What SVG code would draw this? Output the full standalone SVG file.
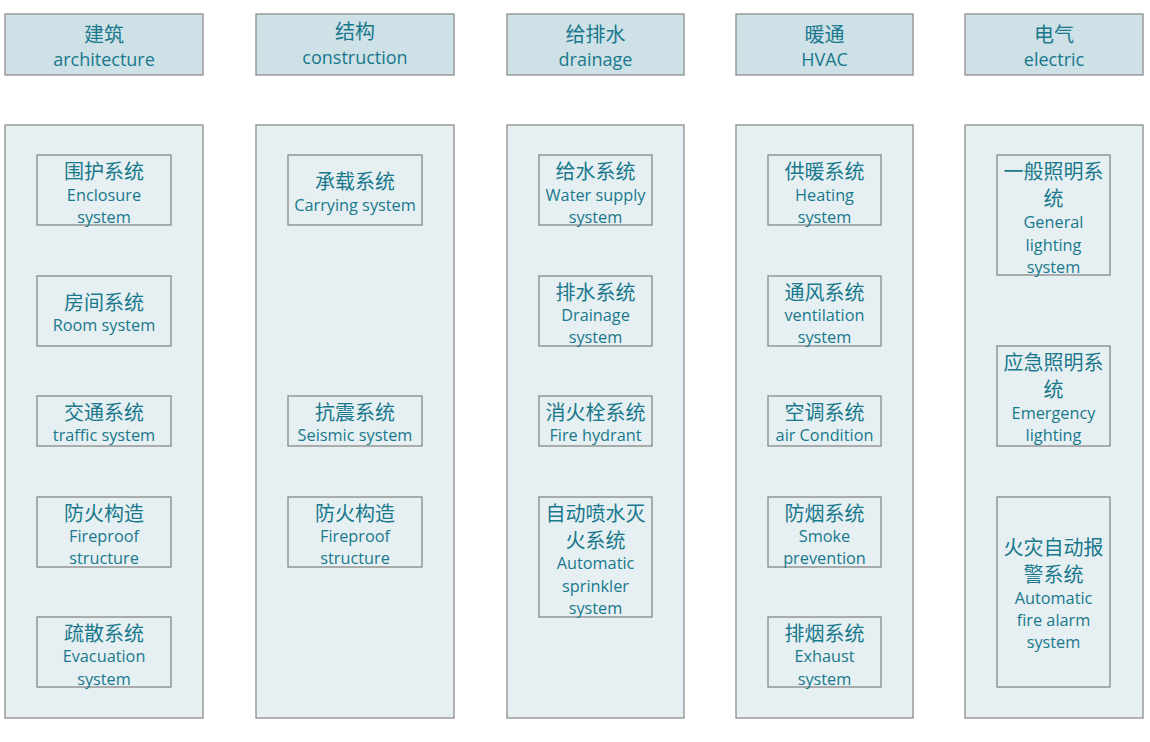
<svg xmlns="http://www.w3.org/2000/svg" width="1150" height="742" viewBox="0 0 1150 742">
<style>
.hdr{fill:#cde1e7;stroke:#8c8c8c;stroke-width:1.3}
.col{fill:#e6f0f2;stroke:#8c8c8c;stroke-width:1.3}
.box{fill:#e6f0f2;stroke:#7f7f7f;stroke-width:1.2}
text{fill:#19788c;text-anchor:middle;dominant-baseline:central}
.zh{font-family:"Noto Sans CJK SC","Noto Sans",sans-serif;font-size:20px}
.en{font-family:"Open Sans","Noto Sans",sans-serif;font-size:16.3px}
.he{font-family:"Open Sans","Noto Sans",sans-serif;font-size:18px}
</style>
<rect width="1150" height="742" fill="#ffffff"/>
<g id="connectors"></g>

<g id="h1"><rect class="hdr" x="5" y="14" width="198" height="61"/><text class="zh" x="104" y="33">建筑</text><text class="he" x="104" y="59">architecture</text></g>
<g id="h2"><rect class="hdr" x="256" y="14" width="198" height="61"/><text class="zh" x="355" y="30">结构</text><text class="he" x="355" y="57">construction</text></g>
<g id="h3"><rect class="hdr" x="507" y="14" width="177" height="61"/><text class="zh" x="595.5" y="33">给排水</text><text class="he" x="595.5" y="59">drainage</text></g>
<g id="h4"><rect class="hdr" x="736" y="14" width="177" height="61"/><text class="zh" x="824.5" y="33">暖通</text><text class="he" x="824.5" y="59">HVAC</text></g>
<g id="h5"><rect class="hdr" x="965" y="14" width="178" height="61"/><text class="zh" x="1054" y="33">电气</text><text class="he" x="1054" y="59">electric</text></g>

<g id="c1"><rect class="col" x="5" y="125" width="198" height="593"/></g>
<g id="c2"><rect class="col" x="256" y="125" width="198" height="593"/></g>
<g id="c3"><rect class="col" x="507" y="125" width="177" height="593"/></g>
<g id="c4"><rect class="col" x="736" y="125" width="177" height="593"/></g>
<g id="c5"><rect class="col" x="965" y="125" width="178" height="593"/></g>

<g id="a1"><rect class="box" x="37" y="155" width="134" height="70"/><text class="zh" x="104" y="170">围护系统</text><text class="en" x="104" y="195">Enclosure</text><text class="en" x="104" y="217">system</text></g>
<g id="a2"><rect class="box" x="37" y="276" width="134" height="70"/><text class="zh" x="104" y="301">房间系统</text><text class="en" x="104" y="325">Room system</text></g>
<g id="a3"><rect class="box" x="37" y="396" width="134" height="50"/><text class="zh" x="104" y="411">交通系统</text><text class="en" x="104" y="435">traffic system</text></g>
<g id="a4"><rect class="box" x="37" y="497" width="134" height="70"/><text class="zh" x="104" y="512">防火构造</text><text class="en" x="104" y="536">Fireproof</text><text class="en" x="104" y="558">structure</text></g>
<g id="a5"><rect class="box" x="37" y="617" width="134" height="70"/><text class="zh" x="104" y="632">疏散系统</text><text class="en" x="104" y="656">Evacuation</text><text class="en" x="104" y="679">system</text></g>

<g id="b1"><rect class="box" x="288" y="155" width="134" height="70"/><text class="zh" x="355" y="180">承载系统</text><text class="en" x="355" y="205">Carrying system</text></g>
<g id="b2"><rect class="box" x="288" y="396" width="134" height="50"/><text class="zh" x="355" y="411">抗震系统</text><text class="en" x="355" y="435">Seismic system</text></g>
<g id="b3"><rect class="box" x="288" y="497" width="134" height="70"/><text class="zh" x="355" y="512">防火构造</text><text class="en" x="355" y="536">Fireproof</text><text class="en" x="355" y="558">structure</text></g>

<g id="d1"><rect class="box" x="539" y="155" width="113" height="70"/><text class="zh" x="595.5" y="170">给水系统</text><text class="en" x="595.5" y="195">Water supply</text><text class="en" x="595.5" y="217">system</text></g>
<g id="d2"><rect class="box" x="539" y="276" width="113" height="70"/><text class="zh" x="595.5" y="291">排水系统</text><text class="en" x="595.5" y="315">Drainage</text><text class="en" x="595.5" y="337">system</text></g>
<g id="d3"><rect class="box" x="539" y="396" width="113" height="50"/><text class="zh" x="595.5" y="411">消火栓系统</text><text class="en" x="595.5" y="435">Fire hydrant</text></g>
<g id="d4"><rect class="box" x="539" y="497" width="113" height="120"/><text class="zh" x="595.5" y="512">自动喷水灭</text><text class="zh" x="595.5" y="539">火系统</text><text class="en" x="595.5" y="563">Automatic</text><text class="en" x="595.5" y="586">sprinkler</text><text class="en" x="595.5" y="608">system</text></g>

<g id="v1"><rect class="box" x="768" y="155" width="113" height="70"/><text class="zh" x="824.5" y="170">供暖系统</text><text class="en" x="824.5" y="195">Heating</text><text class="en" x="824.5" y="217">system</text></g>
<g id="v2"><rect class="box" x="768" y="276" width="113" height="70"/><text class="zh" x="824.5" y="291">通风系统</text><text class="en" x="824.5" y="315">ventilation</text><text class="en" x="824.5" y="337">system</text></g>
<g id="v3"><rect class="box" x="768" y="396" width="113" height="50"/><text class="zh" x="824.5" y="411">空调系统</text><text class="en" x="824.5" y="435">air Condition</text></g>
<g id="v4"><rect class="box" x="768" y="497" width="113" height="70"/><text class="zh" x="824.5" y="512">防烟系统</text><text class="en" x="824.5" y="536">Smoke</text><text class="en" x="824.5" y="558">prevention</text></g>
<g id="v5"><rect class="box" x="768" y="617" width="113" height="70"/><text class="zh" x="824.5" y="632">排烟系统</text><text class="en" x="824.5" y="656">Exhaust</text><text class="en" x="824.5" y="679">system</text></g>

<g id="e1"><rect class="box" x="997" y="155" width="113" height="120"/><text class="zh" x="1053.5" y="170">一般照明系</text><text class="zh" x="1053.5" y="197">统</text><text class="en" x="1053.5" y="222">General</text><text class="en" x="1053.5" y="245">lighting</text><text class="en" x="1053.5" y="267">system</text></g>
<g id="e2"><rect class="box" x="997" y="346" width="113" height="100"/><text class="zh" x="1053.5" y="361">应急照明系</text><text class="zh" x="1053.5" y="388">统</text><text class="en" x="1053.5" y="413">Emergency</text><text class="en" x="1053.5" y="435">lighting</text></g>
<g id="e3"><rect class="box" x="997" y="497" width="113" height="190"/><text class="zh" x="1053.5" y="546">火灾自动报</text><text class="zh" x="1053.5" y="573">警系统</text><text class="en" x="1053.5" y="598">Automatic</text><text class="en" x="1053.5" y="620">fire alarm</text><text class="en" x="1053.5" y="642">system</text></g>
</svg>
